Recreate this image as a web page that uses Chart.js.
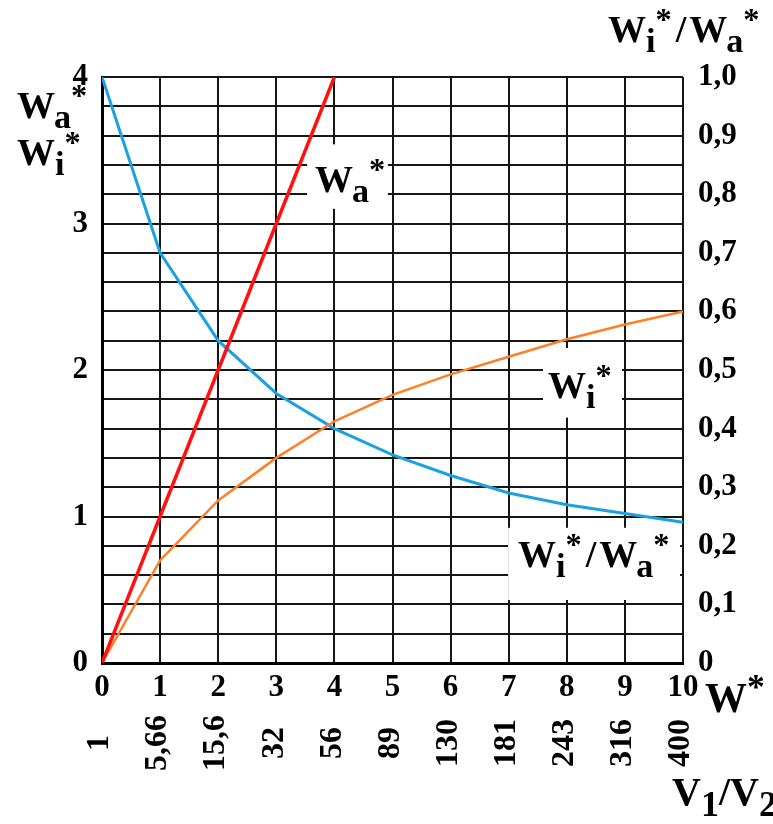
<!DOCTYPE html>
<html>
<head>
<meta charset="utf-8">
<script src="https://cdn.jsdelivr.net/npm/chart.js@4.4.1/dist/chart.umd.min.js"></script>
<style>
  body { margin: 0; background: #fff; }
  canvas { display: block; }
</style>
</head>
<body>
<canvas id="chart" width="773" height="824"></canvas>
<script>
// W* values along the bottom axis and the matching V1/V2 ratios
const W = [0, 1, 2, 3, 4, 5, 6, 7, 8, 9, 10];
const V1V2 = ['1', '5,66', '15,6', '32', '56', '89', '130', '181', '243', '316', '400'];

// Wa* (red line), only drawn up to W* = 4
const WA_W = [0, 1, 2, 3, 4];
const WA = [0, 1, 2, 3, 4];

// Wi* (orange, left axis)
const WI = [0, 0.70, 1.11, 1.40, 1.65, 1.83, 1.97, 2.09, 2.21, 2.31, 2.40];

// Wi*/Wa* (blue, right axis)
const RATIO = [1.0, 0.70, 0.55, 0.46, 0.40, 0.355, 0.32, 0.29, 0.27, 0.255, 0.24];

const SERIF = "'Liberation Serif', 'Times New Roman', serif";
const tickFont = { family: SERIF, size: 31, weight: 'bold' };

const pts = (xs, ys) => xs.map((x, i) => ({ x: x, y: ys[i] }));

// draws W with sub/superscripts, left aligned at x, baseline y
function rich(ctx, x, y, parts, size) {
    size = size || 38;
    ctx.save();
    ctx.fillStyle = '#000';
    ctx.textAlign = 'left';
    ctx.textBaseline = 'alphabetic';
    for (const p of parts) {
        if (typeof p === 'number') { x += p; continue; }
        const [t, k] = p;
        let fs = size, dy = 0;
        if (k === 'sub') { fs = size * 0.9; dy = size * 0.27; }
        if (k === 'sup') { fs = size * 0.85; dy = -size * 0.32; }
        ctx.font = 'bold ' + fs + 'px ' + SERIF;
        ctx.fillText(t, x, y + dy);
        x += ctx.measureText(t).width;
    }
    ctx.restore();
}

const WA_TXT = [['W'], -1, ['a', 'sub'], ['*', 'sup']];
const WI_TXT = [['W'], ['i', 'sub'], ['*', 'sup']];
const RATIO_TXT = [['W'], ['i', 'sub'], ['*', 'sup'], 4, ['/'], 3, ['W'], -1, ['a', 'sub'], ['*', 'sup']];

const annot = {
    id: 'annot',
    beforeDatasetsDraw(chart) {
        const ctx = chart.ctx;
        const x = chart.scales.x, y = chart.scales.y;
        const box = (w0, w1, v0, v1) => {
            const l = x.getPixelForValue(w0), r = x.getPixelForValue(w1);
            const t = y.getPixelForValue(v0), b = y.getPixelForValue(v1);
            ctx.fillRect(l, t, r - l, b - t);
        };
        ctx.save();
        ctx.fillStyle = '#fff';
        box(3.53, 4.92, 3.54, 3.10);
        box(7.59, 8.95, 2.15, 1.675);
        box(6.99, 9.95, 0.923, 0.43);
        ctx.restore();
    },
    afterDraw(chart) {
        const ctx = chart.ctx;
        const x = chart.scales.x;

        // second row of bottom labels: V1/V2, rotated
        ctx.save();
        ctx.fillStyle = '#000';
        ctx.font = 'bold 32px ' + SERIF;
        ctx.textAlign = 'center';
        ctx.textBaseline = 'middle';
        W.forEach((w, i) => {
            ctx.save();
            ctx.translate(x.getPixelForValue(w) - 2, 743);
            ctx.rotate(-Math.PI / 2);
            ctx.fillText(V1V2[i], 0, 0);
            ctx.restore();
        });
        ctx.restore();

        // axis titles
        rich(ctx, 17, 118, WA_TXT);
        rich(ctx, 17, 165, WI_TXT);
        rich(ctx, 608, 42, RATIO_TXT);
        rich(ctx, 705, 712, [['W'], ['*', 'sup']], 42);
        rich(ctx, 672, 805, [['V'], ['1', 'sub'], ['/'], ['V'], ['2', 'sub']], 40);

        // curve labels inside the plot
        rich(ctx, 315, 192, WA_TXT);
        rich(ctx, 548, 398, WI_TXT);
        rich(ctx, 518, 567, RATIO_TXT);
    }
};

const gridStyle = { color: '#161616', lineWidth: 2, drawTicks: false };

new Chart(document.getElementById('chart'), {
    type: 'line',
    data: {
        datasets: [
            {
                label: 'Wa*',
                data: pts(WA_W, WA),
                borderColor: '#ff1111',
                borderWidth: 3.5,
                yAxisID: 'y'
            },
            {
                label: 'Wi*',
                data: pts(W, WI),
                borderColor: '#ff7f27',
                borderWidth: 2.5,
                yAxisID: 'y'
            },
            {
                label: 'Wi*/Wa*',
                data: pts(W, RATIO),
                borderColor: '#1ba1e2',
                borderWidth: 3,
                yAxisID: 'y2'
            }
        ]
    },
    options: {
        responsive: false,
        animation: false,
        layout: { padding: { top: 77 } },
        elements: { point: { radius: 0 }, line: { tension: 0 } },
        plugins: { legend: { display: false }, tooltip: { enabled: false } },
        scales: {
            x: {
                type: 'linear',
                min: 0,
                max: 10,
                afterFit(s) { s.height = 161; },
                ticks: { stepSize: 1, font: tickFont, color: '#000', padding: 6, maxRotation: 0 },
                grid: gridStyle,
                border: { color: '#000', width: 3 }
            },
            y: {
                position: 'left',
                min: 0,
                max: 4,
                afterFit(s) { s.width = 102; },
                ticks: {
                    stepSize: 0.2,
                    autoSkip: false,
                    font: tickFont,
                    color: '#000',
                    padding: 14,
                    callback: (v) => Math.abs(v - Math.round(v)) < 1e-6 ? Math.round(v) : ''
                },
                grid: gridStyle,
                border: { color: '#000', width: 3 }
            },
            y2: {
                position: 'right',
                min: 0,
                max: 1,
                afterFit(s) { s.width = 90; },
                ticks: {
                    stepSize: 0.05,
                    autoSkip: false,
                    font: tickFont,
                    color: '#000',
                    padding: 7,
                    callback: (v) => {
                        const t = Math.round(v * 100);
                        if (t % 10 !== 0) return '';
                        return t === 0 ? '0' : (t / 100).toFixed(1).replace('.', ',');
                    }
                },
                grid: { display: false },
                border: { display: false }
            }
        }
    },
    plugins: [annot]
});
</script>
</body>
</html>
